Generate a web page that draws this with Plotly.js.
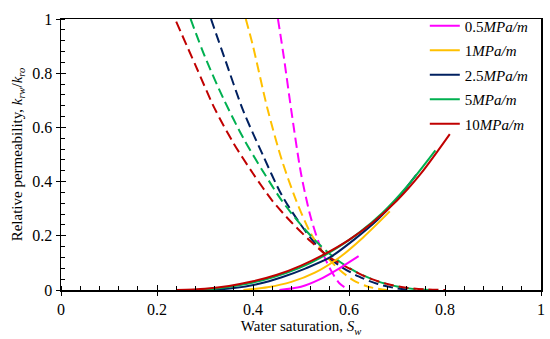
<!DOCTYPE html>
<html><head><meta charset="utf-8">
<script src="https://cdn.plot.ly/plotly-3.0.1.min.js"></script>
<style>html,body{margin:0;padding:0;background:#fff}#plot{width:550px;height:339px}</style>
</head><body><div id="plot"></div>
<script>
const seriesNames = ['0.5<i>MPa/m</i>', '1<i>MPa/m</i>', '2.5<i>MPa/m</i>', '5<i>MPa/m</i>', '10<i>MPa/m</i>'];
const colors = ['#FF00FF', '#FFC000', '#002060', '#00B050', '#C00000'];

// krw (solid)
const krwX_05 = [0.455, 0.50, 0.54, 0.58, 0.62];
const krwY_05 = [0, 0.012, 0.04, 0.08, 0.125];
const krwX_1 = [0.38, 0.43, 0.48, 0.53, 0.58, 0.63, 0.685];
const krwY_1 = [0, 0.01, 0.03, 0.065, 0.12, 0.195, 0.29];
const krwX_25 = [0.31, 0.36, 0.41, 0.46, 0.51, 0.56, 0.61, 0.66, 0.70, 0.74];
const krwY_25 = [0, 0.007, 0.022, 0.047, 0.08, 0.12, 0.185, 0.26, 0.335, 0.425];
const krwX_5 = [0.27, 0.32, 0.37, 0.42, 0.47, 0.52, 0.57, 0.62, 0.67, 0.72, 0.78];
const krwY_5 = [0, 0.005, 0.017, 0.036, 0.063, 0.10, 0.15, 0.21, 0.285, 0.38, 0.515];
const krwX_10 = [0.24, 0.30, 0.35, 0.40, 0.45, 0.50, 0.55, 0.60, 0.65, 0.70, 0.75, 0.81];
const krwY_10 = [0, 0.005, 0.015, 0.032, 0.056, 0.09, 0.133, 0.185, 0.25, 0.33, 0.43, 0.575];

// kro (dashed)
const kroX_05 = [0.452, 0.465, 0.48, 0.50, 0.52, 0.54, 0.56, 0.58, 0.60];
const kroY_05 = [1.0, 0.85, 0.66, 0.43, 0.27, 0.16, 0.08, 0.025, 0];
const kroX_1 = [0.385, 0.40, 0.43, 0.46, 0.49, 0.52, 0.55, 0.58, 0.61, 0.64, 0.68];
const kroY_1 = [1.0, 0.90, 0.67, 0.48, 0.33, 0.21, 0.13, 0.075, 0.035, 0.012, 0];
const kroX_25 = [0.3125, 0.34, 0.38, 0.42, 0.46, 0.50, 0.54, 0.58, 0.62, 0.66, 0.70, 0.73];
const kroY_25 = [1.0, 0.86, 0.66, 0.50, 0.35, 0.24, 0.15, 0.09, 0.05, 0.022, 0.006, 0];
const kroX_5 = [0.27, 0.30, 0.34, 0.38, 0.42, 0.46, 0.50, 0.54, 0.58, 0.62, 0.66, 0.70, 0.74, 0.77];
const kroY_5 = [1.0, 0.86, 0.70, 0.56, 0.44, 0.33, 0.24, 0.165, 0.105, 0.062, 0.032, 0.013, 0.003, 0];
const kroX_10 = [0.24, 0.28, 0.32, 0.36, 0.40, 0.44, 0.48, 0.52, 0.56, 0.60, 0.64, 0.68, 0.72, 0.76, 0.80];
const kroY_10 = [0.99, 0.83, 0.67, 0.54, 0.43, 0.33, 0.25, 0.18, 0.12, 0.08, 0.045, 0.022, 0.008, 0.002, 0];

const krwX = [krwX_05, krwX_1, krwX_25, krwX_5, krwX_10];
const krwY = [krwY_05, krwY_1, krwY_25, krwY_5, krwY_10];
const kroX = [kroX_05, kroX_1, kroX_25, kroX_5, kroX_10];
const kroY = [kroY_05, kroY_1, kroY_25, kroY_5, kroY_10];

const traces = [];
for (let i = 0; i < 5; i++) {
  traces.push({x: kroX[i], y: kroY[i], mode: 'lines', line: {color: colors[i], width: 2, dash: '10px,5px', shape: 'spline', smoothing: 0.8}, showlegend: false, hoverinfo: 'skip'});
}
for (let i = 0; i < 5; i++) {
  traces.push({x: krwX[i], y: krwY[i], mode: 'lines', name: seriesNames[i], legendgroup: 'g' + i, line: {color: colors[i], width: 2, shape: 'spline', smoothing: 0.8}});
}
// overlay axis carrier for inside major ticks
traces.push({x: [0], y: [0], xaxis: 'x2', yaxis: 'y2', mode: 'markers', marker: {opacity: 0}, showlegend: false, hoverinfo: 'skip'});

const FAM = 'Liberation Serif';
const fnt = {family: FAM, size: 16, color: '#000'};
const layout = {
  width: 550, height: 339,
  margin: {l: 61, r: 9, t: 14, b: 49},
  paper_bgcolor: '#fff', plot_bgcolor: '#fff',
  font: fnt,
  showlegend: true,
  legend: {x: 0.985, xanchor: 'right', y: 1.035, yanchor: 'top', bgcolor: 'rgba(0,0,0,0)', font: {family: FAM, size: 15, color: '#000'}, tracegroupgap: 2, itemwidth: 30},
  xaxis: {
    range: [0, 1], dtick: 0.2, showgrid: false, zeroline: false,
    showline: true, linecolor: '#000', linewidth: 1.5, mirror: true,
    ticks: 'outside', ticklen: 4, tickwidth: 1, tickcolor: '#000',
    minor: {dtick: 0.04, ticks: 'inside', ticklen: 4, tickwidth: 1, tickcolor: '#000', showgrid: false},
    tickfont: {family: FAM, size: 16},
    title: {text: 'Water saturation, <i>S</i><sub><i>w</i></sub>', font: {family: FAM, size: 15}, standoff: 4}
  },
  yaxis: {
    range: [0, 1], dtick: 0.2, showgrid: false, zeroline: false,
    showline: true, linecolor: '#000', linewidth: 1.5, mirror: true,
    ticks: 'outside', ticklen: 4, tickwidth: 1, tickcolor: '#000',
    minor: {dtick: 0.04, ticks: 'inside', ticklen: 4, tickwidth: 1, tickcolor: '#000', showgrid: false},
    tickfont: {family: FAM, size: 16},
    title: {text: 'Relative permeability, <i>k</i><sub><i>rw</i></sub>/<i>k</i><sub><i>ro</i></sub>', font: {family: FAM, size: 15}, standoff: 6}
  },
  xaxis2: {overlaying: 'x', range: [0, 1], dtick: 0.2, ticks: 'inside', ticklen: 5, tickwidth: 1, tickcolor: '#000', showticklabels: false, showgrid: false, zeroline: false, showline: false, anchor: 'y'},
  yaxis2: {overlaying: 'y', range: [0, 1], dtick: 0.2, ticks: 'inside', ticklen: 5, tickwidth: 1, tickcolor: '#000', showticklabels: false, showgrid: false, zeroline: false, showline: false, anchor: 'x'}
};
Plotly.newPlot('plot', traces, layout, {displayModeBar: false, staticPlot: true});
</script></body></html>
